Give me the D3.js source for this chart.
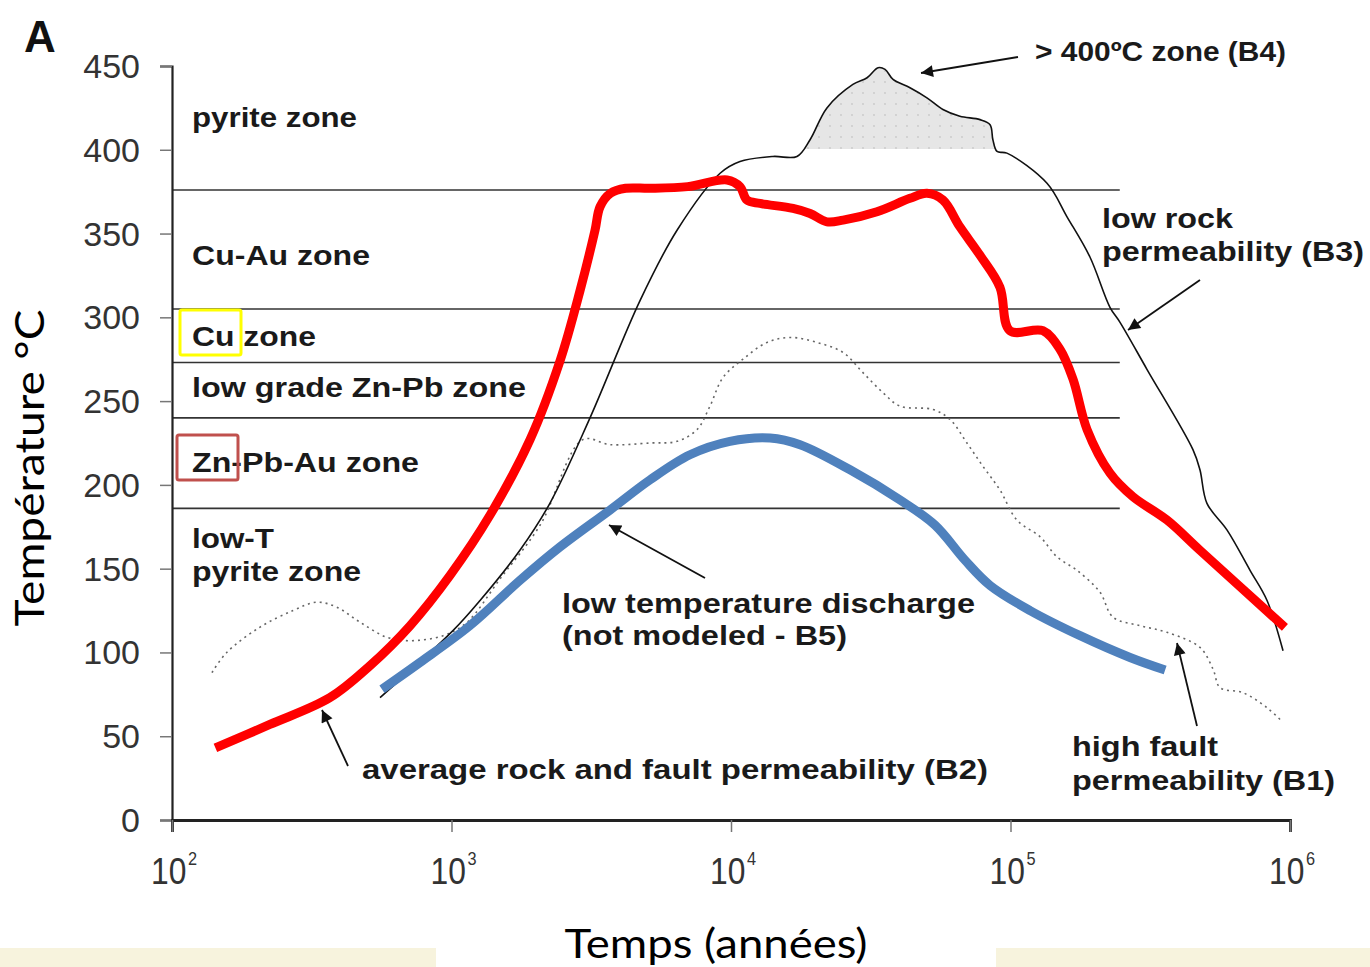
<!DOCTYPE html>
<html>
<head>
<meta charset="utf-8">
<script src="https://cdn.jsdelivr.net/npm/d3@7"></script>
<style>
  html, body { margin: 0; padding: 0; background: #ffffff; }
  svg { display: block; }
</style>
</head>
<body>
<svg id="chart" width="1370" height="967"></svg>
<script>
// ---------------- DATA ----------------
const xTickValues = [1e2, 1e3, 1e4, 1e5, 1e6];
const xTickExponents = ["2", "3", "4", "5", "6"];
const yTickValues = [0, 50, 100, 150, 200, 250, 300, 350, 400, 450];

// Red: average rock and fault permeability (B2)
const redTime = [143,224,367,510,711,988,1374,1910,2445,2884,3262,3400,3700,4200,5130,7000,9680,10770,11400,12700,16670,19180,22040,25180,33290,43690,50240,57310,65900,77800,91650,99500,130600,150300,167400,187900,227000,274000,363000,476000,959000];
const redTemp = [43,57,73,92,116,146,182,227,274,316,352,366,374,377,377,378,382,378,370,368,365,362,357,358,363,371,374,370,354,337,318,292,292,281,263,233,207,193,179,161,115];

// Blue: low temperature discharge (B5)
const blueTime = [564,771,1164,1757,2445,3690,5130,7130,9910,13800,17660,26670,40270,53700,68770,84500,117500,177400,267700,357500];
const blueTemp = [78,94,116,143,163,185,203,218,226,228,224,209,191,176,155,140,125,110,97,89.5];

// Black: low rock permeability (B3)
const b3Time = [555,1012,1265,1757,2249,3130,4726,6411,9141,10770,14130,17220,19180,22040,27300,30680,33590,35580,38000,43690,50240,57310,65900,77770,84500,86500,89500,97100,135100,159300,192400,226900,246500,307700,449500,476200,504500,595600,719500,827700,944300];
const b3Temp = [73,113,131,161,189,240,310,352,386,393,396,396,406,425,439,443,449,448,442,437,431,424,420,418,415,406,399,398,380,360,336,306,297,269,221,209,189,173,149,131,101];

// Dotted: high fault permeability (B1)
const b1Time = [139,157,206,271,330,389,471,588,711,933,1136,1493,2075,2951,3690,5130,6411,7556,8408,9355,11030,13450,16260,20320,25180,29650,34990,40270,52850,60800,69860,79760,91650,105400,127600,146700,172900,208900,232800,290600,362900,476200,530500,562300,679000,827700,921000];
const b1Temp = [88,100,115,125,130,127,118,109,107,110,118,144,176,227,224,225,226,233,247,264,275,285,288,285,279,267,255,247,245,239,225,211,197,179,169,157,149,136,121,116,112,103,90,79,76,67,60];

// Zone boundaries (°C) and extent (years)
const zoneBoundaries = [376, 305, 273, 240, 186];
const zoneStart = 100;
const zoneEnd = 246000;
const hotZoneThreshold = 400;

const zoneLabels = ["pyrite zone", "Cu-Au zone", "Cu zone", "low grade Zn-Pb zone", "Zn-Pb-Au zone", "low-T", "pyrite zone"];

// ---------------- CHART ----------------
const svg = d3.select("#chart");
const x = d3.scaleLog().domain([1e2, 1e6]).range([172, 1290]);
const y = d3.scaleLinear().domain([0, 450]).range([820, 66]);

// background bands at bottom
svg.append("rect").attr("x", 0).attr("y", 948).attr("width", 436).attr("height", 19).attr("fill", "#f7f3dd");
svg.append("rect").attr("x", 996).attr("y", 948).attr("width", 374).attr("height", 19).attr("fill", "#f7f3dd");

const defs = svg.append("defs");
const pat = defs.append("pattern").attr("id", "dots").attr("width", 11).attr("height", 11).attr("patternUnits", "userSpaceOnUse");
pat.append("rect").attr("width", 11).attr("height", 11).attr("fill", "#e6e6e6");
pat.append("circle").attr("cx", 5).attr("cy", 5).attr("r", 0.9).attr("fill", "#c8c8c8");

defs.append("clipPath").attr("id", "hotclip")
  .append("rect").attr("x", 172).attr("y", 0).attr("width", 1118).attr("height", Math.floor(y(hotZoneThreshold)));

defs.append("marker").attr("id", "arrow").attr("viewBox", "0 0 10 10")
  .attr("refX", 10).attr("refY", 5).attr("markerWidth", 16).attr("markerHeight", 12)
  .attr("markerUnits", "userSpaceOnUse").attr("orient", "auto")
  .append("path").attr("d", "M0,0 L10,5 L0,10 Z").attr("fill", "#111");

const pts = (ts, vs) => ts.map((t, i) => [t, vs[i]]);

// >400 zone fill
const b3 = pts(b3Time, b3Temp);
svg.append("path").datum(b3)
  .attr("clip-path", "url(#hotclip)")
  .attr("fill", "url(#dots)")
  .attr("d", d3.area().x(d => x(d[0])).y0(y(hotZoneThreshold) + 2).y1(d => y(d[1])).curve(d3.curveCatmullRom));

// zone boundary lines
svg.selectAll("line.zone").data(zoneBoundaries).join("line")
  .attr("class", "zone")
  .attr("x1", x(zoneStart)).attr("x2", x(zoneEnd))
  .attr("y1", d => y(d)).attr("y2", d => y(d))
  .attr("stroke", "#333").attr("stroke-width", 1.6);

// axes
const yAxis = d3.axisLeft(y).tickValues(yTickValues).tickSize(12).tickFormat("");
const gy = svg.append("g").attr("transform", "translate(172,0)").call(yAxis);
gy.select(".domain").attr("stroke", "#222").attr("stroke-width", 2.2);
gy.selectAll(".tick line").attr("stroke", "#777").attr("stroke-width", 1.5);

const xAxis = d3.axisBottom(x).tickValues(xTickValues).tickSize(12).tickFormat("");
const gx = svg.append("g").attr("transform", "translate(0,820)").call(xAxis);
gx.select(".domain").attr("stroke", "#222").attr("stroke-width", 2.8);
gx.selectAll(".tick line").attr("stroke", "#777").attr("stroke-width", 1.5);

// y tick labels
svg.selectAll("text.ytl").data(yTickValues).join("text")
  .attr("class", "ytl")
  .attr("x", 140).attr("y", d => y(d) + 12)
  .attr("text-anchor", "end")
  .attr("font-family", "Liberation Sans, Arial, sans-serif")
  .attr("font-size", 34).attr("fill", "#333")
  .text(d => d);

// x tick labels (single text with superscript tspan, condensed)
const xtl = svg.selectAll("text.xtl").data(xTickValues).join("text")
  .attr("class", "xtl")
  .attr("transform", d => `translate(${x(d) - 21},884) scale(0.86,1)`)
  .attr("font-family", "Liberation Sans, Arial, sans-serif")
  .attr("font-size", 37).attr("fill", "#333");
xtl.append("tspan").text("10");
xtl.append("tspan")
  .attr("dx", 2).attr("dy", -19)
  .attr("font-size", 19)
  .text((d, i) => xTickExponents[i]);

// lines
const line = d3.line().x(d => x(d[0])).y(d => y(d[1])).curve(d3.curveCatmullRom);

svg.append("path").datum(pts(b1Time, b1Temp))
  .attr("fill", "none").attr("stroke", "#666").attr("stroke-width", 1.6)
  .attr("stroke-dasharray", "2,4").attr("d", line);

svg.append("path").datum(b3)
  .attr("fill", "none").attr("stroke", "#111").attr("stroke-width", 1.6).attr("d", line);

svg.append("path").datum(pts(blueTime, blueTemp))
  .attr("fill", "none").attr("stroke", "#4f81bd").attr("stroke-width", 9).attr("d", line);

svg.append("path").datum(pts(redTime, redTemp))
  .attr("fill", "none").attr("stroke", "#ff0000").attr("stroke-width", 9).attr("d", line);

// annotation text helper
function label(txt, px, py, width, size) {
  svg.append("text")
    .attr("x", px).attr("y", py)
    .attr("font-family", "Liberation Sans, Arial, sans-serif")
    .attr("font-weight", "bold")
    .attr("font-size", size || 27)
    .attr("fill", "#1a1a1a")
    .attr("textLength", width).attr("lengthAdjust", "spacingAndGlyphs")
    .text(txt);
}

// zone labels
const zoneLabelY = [127, 265, 346, 397, 472, 548, 581];
const zoneLabelW = [165, 178, 124, 334, 227, 82, 169];
zoneLabels.forEach((t, i) => label(t, 192, zoneLabelY[i], zoneLabelW[i]));

// highlight boxes
svg.append("rect").attr("x", 180).attr("y", 310).attr("width", 61).attr("height", 45)
  .attr("fill", "none").attr("stroke", "#ffff00").attr("stroke-width", 3).attr("rx", 2);
svg.append("rect").attr("x", 177).attr("y", 435).attr("width", 61).attr("height", 45)
  .attr("fill", "none").attr("stroke", "#c0504d").attr("stroke-width", 3).attr("rx", 2);

// curve annotations
label("> 400\u00BAC zone (B4)", 1035, 61, 251);
label("low rock", 1102, 228, 131);
label("permeability (B3)", 1102, 261, 262);
label("low temperature discharge", 562, 613, 413);
label("(not modeled - B5)", 562, 645, 285);
label("average rock and fault  permeability (B2)", 362, 779, 626);
label("high fault", 1072, 756, 146);
label("permeability (B1)", 1072, 790, 263);

// arrows
const arrows = [
  [1018, 57, 921, 73],
  [1200, 280, 1128, 330],
  [705, 578, 609, 525],
  [348, 766, 322, 710],
  [1197, 726, 1177, 643]
];
arrows.forEach(a => {
  svg.append("line").attr("x1", a[0]).attr("y1", a[1]).attr("x2", a[2]).attr("y2", a[3])
    .attr("stroke", "#111").attr("stroke-width", 1.8).attr("marker-end", "url(#arrow)");
});

// panel letter
svg.append("text").attr("x", 24).attr("y", 52)
  .attr("font-family", "Liberation Sans, Arial, sans-serif")
  .attr("font-weight", "bold").attr("font-size", 44).attr("fill", "#111")
  .text("A");

// axis titles
svg.append("text")
  .attr("transform", "translate(44,468) rotate(-90)")
  .attr("text-anchor", "middle")
  .attr("font-family", "Lato, 'Open Sans', sans-serif")
  .attr("font-size", 41).attr("fill", "#000")
  .attr("textLength", 317).attr("lengthAdjust", "spacingAndGlyphs")
  .text("Température °C");

svg.append("text")
  .attr("x", 716).attr("y", 958)
  .attr("text-anchor", "middle")
  .attr("font-family", "Lato, 'Open Sans', sans-serif")
  .attr("font-size", 41).attr("fill", "#000")
  .attr("textLength", 303).attr("lengthAdjust", "spacingAndGlyphs")
  .text("Temps (années)");
</script>
</body>
</html>
